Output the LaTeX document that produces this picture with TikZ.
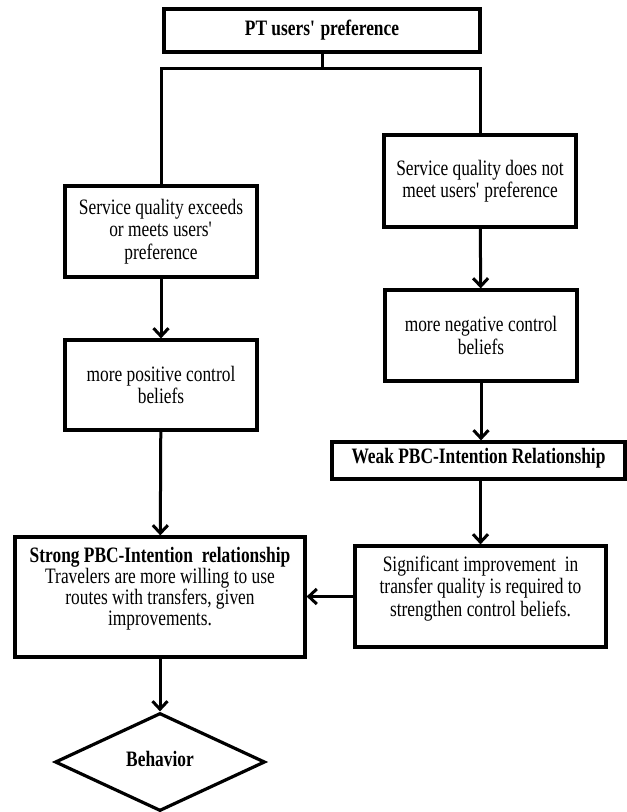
\documentclass[tikz,border=0pt]{standalone}
\usepackage{fontspec}
\setmainfont{Liberation Serif}[FakeStretch=0.79]
\usetikzlibrary{arrows.meta,shapes.geometric}
\newcommand{\apo}{\textquotesingle}
\begin{document}
\begin{tikzpicture}[x=1pt,y=-1pt,
  box/.style={draw, line width=3.2pt, inner sep=0pt, minimum width=#1},
  lbl/.style={align=center, inner sep=0pt, font=\fontsize{22}{22.5}\selectfont},
  conn/.style={line width=3pt},
  arr/.style={conn, -{Straight Barb[length=8pt,width=15pt]}}
]
\useasboundingbox (0,0) rectangle (627,812);

% boxes
\node[box=316, minimum height=43] (pt) at (322,30.5) {};
\node[box=192, minimum height=92] (r1) at (480,181) {};
\node[box=192, minimum height=91] (l1) at (161,231.5) {};
\node[box=192, minimum height=90] (l2) at (161,385) {};
\node[box=192, minimum height=91] (r2) at (481,335.5) {};
\node[box=293, minimum height=37] (wk) at (478.5,460.5) {};
\node[box=251, minimum height=101] (r3) at (480.5,596.5) {};
\node[box=290, minimum height=120] (st) at (160,597) {};
\node[diamond, draw, line width=3.2pt, inner sep=0pt, minimum width=210, minimum height=98] (bh) at (160,762) {};

% labels
\node[lbl, font=\fontsize{22}{22.5}\selectfont\bfseries] (ptt) at (pt.center) {PT users\apo{} preference};
\node[lbl] (r1t) at (r1.center) {Service quality does not\\meet users\apo{} preference};
\node[lbl] (l1t) at (l1.center) {Service quality exceeds\\or meets users\apo\\preference};
\node[lbl] (l2t) at (l2.center) {more positive control\\beliefs};
\node[lbl] (r2t) at (r2.center) {more negative control\\beliefs};
\node[lbl, font=\fontsize{22}{22.5}\selectfont\bfseries] (wkt) at ([yshift=2]wk.center) {Weak PBC-Intention Relationship};
\node[lbl] (r3t) at ([yshift=8]r3.center) {Significant improvement\ \ in\\transfer quality is required to\\strengthen control beliefs.};
\node[lbl, font=\fontsize{22}{21}\selectfont] (stt) at ([yshift=8]st.center) {\textbf{Strong PBC-Intention\ \ relationship}\\Travelers are more willing to use\\routes with transfers, given\\improvements.};
\node[lbl, font=\fontsize{22}{22.5}\selectfont\bfseries] (bht) at ([yshift=3]bh.center) {Behavior};

% connectors
\coordinate (j) at (322,68);
\draw[conn] (pt) -- (j);
\draw[conn, line join=miter] (l1.north) |- (j) -| (r1.north);
\draw[arr] (l1) -- (l2);
\draw[arr] (l2) -- (st);
\draw[arr] (st) -- (bh);
\draw[arr] (r1) -- (r2);
\draw[arr] (r2) -- (wk.north -| r2.south);
\draw[arr] (wk.south -| r3.north) -- (r3);
\draw[arr] (r3.west) -- (r3.west -| st.east);
\end{tikzpicture}
\end{document}
